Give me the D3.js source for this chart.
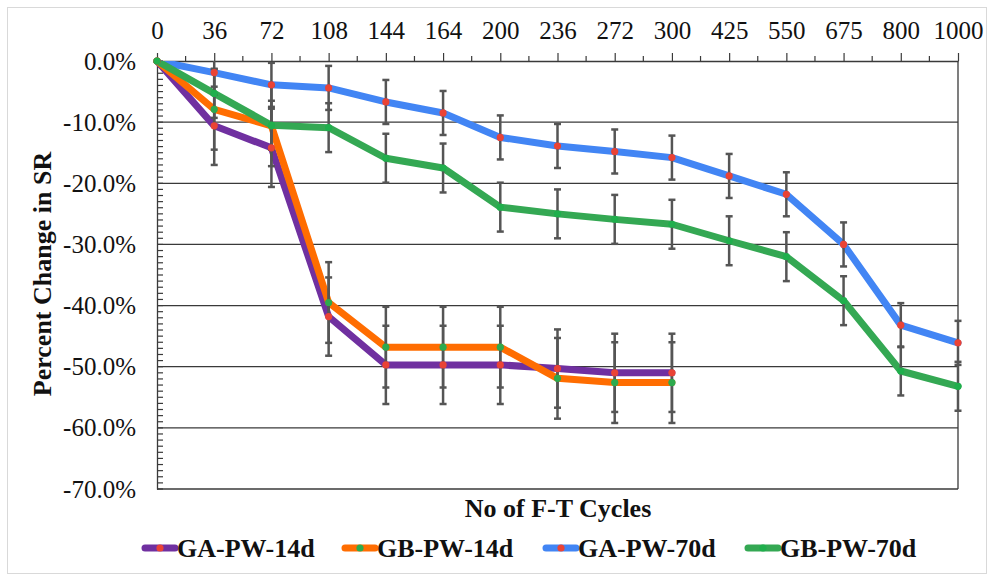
<!DOCTYPE html>
<html>
<head>
<meta charset="utf-8">
<script src="https://cdn.jsdelivr.net/npm/d3@7/dist/d3.min.js"></script>
<style>
  html, body { margin: 0; padding: 0; background: #fff; }
  svg { display: block; }
  text { font-family: "Liberation Serif", "Times New Roman", serif; }
</style>
</head>
<body>
<svg id="chart" width="994" height="581"></svg>
<script>
// Freeze-thaw cycle counts (category axis, shown along the top)
const cycles = ["0", "36", "72", "108", "144", "164", "200", "236", "272", "300", "425", "550", "675", "800", "1000"];

// Percent change in SR for each mix (fractions)
const gaPw14d = [0, -0.106, -0.142, -0.418, -0.497, -0.497, -0.497, -0.503, -0.510, -0.510];
const gbPw14d = [0, -0.079, -0.106, -0.395, -0.468, -0.468, -0.468, -0.519, -0.526, -0.526];
const gaPw70d = [0, -0.019, -0.039, -0.044, -0.067, -0.085, -0.125, -0.139, -0.148, -0.158, -0.188, -0.218, -0.300, -0.432, -0.461];
const gbPw70d = [0, -0.053, -0.105, -0.109, -0.159, -0.175, -0.239, -0.250, -0.259, -0.267, -0.294, -0.320, -0.392, -0.507, -0.532];

// Error bar half-widths (fractions)
const gaPw14dErr = [0, 0.064, 0.064, 0.064, 0.064, 0.064, 0.064, 0.064, 0.064, 0.064];
const gbPw14dErr = [0, 0.066, 0.066, 0.066, 0.066, 0.066, 0.066, 0.066, 0.066, 0.066];
const gaPw70dErr = [0, 0.036, 0.036, 0.036, 0.036, 0.036, 0.036, 0.036, 0.036, 0.036, 0.036, 0.036, 0.036, 0.036, 0.036];
const gbPw70dErr = [0, 0.040, 0.040, 0.040, 0.040, 0.040, 0.040, 0.040, 0.040, 0.040, 0.040, 0.040, 0.040, 0.040, 0.040];

const yTicks = [0, -0.1, -0.2, -0.3, -0.4, -0.5, -0.6, -0.7];

const seriesNames = ["GA-PW-14d", "GB-PW-14d", "GA-PW-70d", "GB-PW-70d"];
const seriesValues = [gaPw14d, gbPw14d, gaPw70d, gbPw70d];
const seriesErrors = [gaPw14dErr, gbPw14dErr, gaPw70dErr, gbPw70dErr];
const lineColors = ["#7030A0", "#FF6D01", "#4285F4", "#34A853"];
const markerColors = ["#EA4335", "#2DAA4E", "#EA4335", "#1FAF4C"];

const series = seriesNames.map((name, i) => ({
  name,
  color: lineColors[i],
  marker: markerColors[i],
  points: seriesValues[i].map((v, j) => ({ c: cycles[j], v, e: seriesErrors[i][j] }))
}));

const FONT = "Liberation Serif, Times New Roman, serif";
const svg = d3.select("#chart").attr("font-family", FONT);
const plotLeft = 157, plotRight = 958, plotTop = 61, plotBottom = 489;

// Outer chart frame
svg.append("rect")
  .attr("x", 7.5).attr("y", 7.5).attr("width", 979).attr("height", 566)
  .attr("fill", "#fff").attr("stroke", "#d9d9d9").attr("stroke-width", 1);

const x = d3.scalePoint().domain(cycles).range([plotLeft, plotRight]);
const y = d3.scaleLinear().domain([-0.7, 0]).range([plotBottom, plotTop]);

const locale = d3.formatLocale({ decimal: ".", thousands: ",", grouping: [3], currency: ["", ""], minus: "-", percent: "%" });
const pct = locale.format(".1%");

// Horizontal gridlines
svg.append("g").selectAll("line")
  .data(yTicks.filter(t => t !== 0))
  .join("line")
  .attr("x1", plotLeft).attr("x2", plotRight)
  .attr("y1", d => y(d)).attr("y2", d => y(d))
  .attr("stroke", "#3a3a3a").attr("stroke-width", 1.3);

// Minor ticks on the value axis (every 1%), pointing inward
svg.append("g").selectAll("line")
  .data(d3.range(0, 71).map(k => -k / 100))
  .join("line")
  .attr("x1", plotLeft).attr("x2", plotLeft + 6)
  .attr("y1", d => y(d)).attr("y2", d => y(d))
  .attr("stroke", "#3a3a3a").attr("stroke-width", 1.2);

// Right border of the plot
svg.append("line")
  .attr("x1", plotRight).attr("x2", plotRight).attr("y1", plotTop).attr("y2", plotBottom)
  .attr("stroke", "#3a3a3a").attr("stroke-width", 1.3);

// Value axis
const yAxis = svg.append("g")
  .attr("transform", `translate(${plotLeft},0)`)
  .call(d3.axisLeft(y).tickValues(yTicks).tickFormat(pct).tickSize(0).tickPadding(21));
yAxis.attr("font-family", FONT);
yAxis.select(".domain").attr("stroke", "#3a3a3a").attr("stroke-width", 1.3);
yAxis.selectAll("text").attr("font-size", 25).attr("fill", "#111");

// Minor ticks on the category axis (between categories)
const mids = d3.pairs(cycles).map(([a, b]) => (x(a) + x(b)) / 2);
svg.append("g").selectAll("line")
  .data(mids)
  .join("line")
  .attr("x1", d => d).attr("x2", d => d)
  .attr("y1", plotTop).attr("y2", plotTop - 5)
  .attr("stroke", "#3a3a3a").attr("stroke-width", 1.2);

// Category axis along the top
const xAxis = svg.append("g")
  .attr("transform", `translate(0,${plotTop})`)
  .call(d3.axisTop(x).tickSizeInner(8).tickSizeOuter(0).tickPadding(14));
xAxis.attr("font-family", FONT);
xAxis.select(".domain").attr("stroke", "#3a3a3a").attr("stroke-width", 1.3);
xAxis.selectAll(".tick line").attr("stroke", "#3a3a3a").attr("stroke-width", 1.2);
xAxis.selectAll("text").attr("font-size", 25).attr("fill", "#111");

// Clip series to the plot area
svg.append("clipPath").attr("id", "plotClip")
  .append("rect").attr("x", plotLeft - 10).attr("y", plotTop).attr("width", plotRight - plotLeft + 20).attr("height", plotBottom - plotTop);

const plot = svg.append("g").attr("clip-path", "url(#plotClip)");

const line = d3.line().x(d => x(d.c)).y(d => y(d.v));

// Series lines
plot.selectAll("path.series")
  .data(series)
  .join("path")
  .attr("class", "series")
  .attr("d", d => line(d.points))
  .attr("fill", "none")
  .attr("stroke", d => d.color)
  .attr("stroke-width", 7)
  .attr("stroke-linejoin", "round")
  .attr("stroke-linecap", "round");

// Error bars
const errColor = "#555";
series.forEach(s => {
  const g = plot.append("g");
  s.points.filter(p => p.e > 0).forEach(p => {
    const cx = x(p.c);
    const hi = p.v + p.e, lo = p.v - p.e;
    const yHi = y(Math.min(hi, 0)), yLo = y(Math.max(lo, -0.7));
    g.append("line").attr("x1", cx).attr("x2", cx).attr("y1", yHi).attr("y2", yLo)
      .attr("stroke", errColor).attr("stroke-width", 2.5);
    if (hi <= 0) g.append("line").attr("x1", cx - 3.5).attr("x2", cx + 3.5).attr("y1", y(hi)).attr("y2", y(hi))
      .attr("stroke", errColor).attr("stroke-width", 2.5);
    if (lo >= -0.7) g.append("line").attr("x1", cx - 3.5).attr("x2", cx + 3.5).attr("y1", y(lo)).attr("y2", y(lo))
      .attr("stroke", errColor).attr("stroke-width", 2.5);
  });
});

// Markers
series.forEach(s => {
  svg.append("g").selectAll("circle")
    .data(s.points)
    .join("circle")
    .attr("cx", d => x(d.c)).attr("cy", d => y(d.v)).attr("r", 3.6)
    .attr("fill", s.marker);
});

// Axis titles
svg.append("text")
  .attr("transform", "translate(51,274) rotate(-90)")
  .attr("text-anchor", "middle")
  .attr("font-family", FONT)
  .attr("font-size", 26).attr("font-weight", "bold").attr("fill", "#111")
  .text("Percent Change in SR");

svg.append("text")
  .attr("x", 558).attr("y", 517)
  .attr("text-anchor", "middle")
  .attr("font-family", FONT)
  .attr("font-size", 26).attr("font-weight", "bold").attr("fill", "#111")
  .text("No of F-T Cycles");

// Legend
const legendX = [145, 345, 546, 748];
const legend = svg.append("g");
series.forEach((s, i) => {
  const g = legend.append("g").attr("transform", `translate(${legendX[i]},548)`);
  g.append("line").attr("x1", 0).attr("x2", 30).attr("y1", 0).attr("y2", 0)
    .attr("stroke", s.color).attr("stroke-width", 7).attr("stroke-linecap", "round");
  g.append("circle").attr("cx", 15).attr("cy", 0).attr("r", 3.6).attr("fill", s.marker);
  g.append("text").attr("x", 32).attr("y", 9)
    .attr("font-family", FONT)
    .attr("font-size", 26).attr("font-weight", "bold").attr("fill", "#111")
    .text(s.name);
});
</script>
</body>
</html>
